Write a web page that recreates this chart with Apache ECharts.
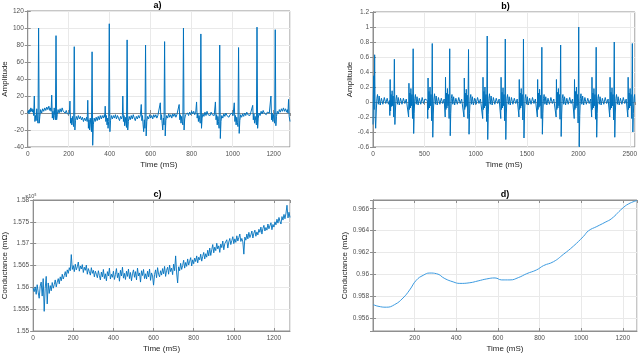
<!DOCTYPE html>
<html>
<head>
<meta charset="utf-8">
<script src="https://cdn.jsdelivr.net/npm/echarts@6/dist/echarts.min.js"></script>
<style>
  html, body { margin: 0; padding: 0; background: #fff; }
  #main { width: 640px; height: 354px; }
</style>
</head>
<body>
<div id="main"></div>
<script>
// a) ECG amplitude, [time ms, amplitude]
var ecgA = [
  [0,0],[3,3],[6,-1],[9,4],[12,1],[15,6],[18,2],[21,5],[24,1],[27,4],[29,-3],
  [32,20],[35,-10],[38,-3],[41,-9],[44,5],[47,-6],[50,-12],[53,100],[56,-12],[59,-4],[63,4],[68,0],[73,5],[78,2],[83,6],[88,3],[93,7],[98,4],[103,8],[108,3],[112,6],[114,2],
  [117,21],[120,-6],[123,2],[126,-8],[129,6],[132,-3],[135,-8],[138,91],[141,-8],[144,-2],[148,4],[153,0],[158,5],[163,1],[168,6],[173,2],[178,4],[183,0],[188,3],[193,-1],[198,-3],[203,-1],
  [206,14],[209,-12],[212,-6],[215,-14],[218,-4],[221,-12],[224,-16],[227,78],[230,-20],[233,-9],[237,-4],[242,-8],[247,-3],[252,-7],[257,-4],[262,-8],[267,-5],[272,-10],[277,-6],[282,-9],[287,-5],[290,-10],
  [293,15],[296,-18],[299,-8],[302,-20],[305,-6],[308,-14],[311,-22],[314,72],[317,-38],[320,-14],[324,-6],[329,-10],[334,-5],[339,-9],[344,-4],[349,-8],[354,-3],[359,-7],[364,-3],[369,-6],[374,-2],[376,-5],
  [378,8],[381,-10],[384,-3],[387,-14],[390,-6],[392,-18],[395,-10],[398,105],[401,-22],[404,-9],[408,-3],[413,-7],[418,-3],[423,-6],[428,-2],[433,-7],[438,-3],[443,-6],[448,-9],[453,-4],[458,-7],[462,-3],
  [464,20],[467,-10],[470,-3],[473,-15],[476,-5],[479,-12],[482,-17],[485,86],[488,-20],[491,-10],[495,-4],[500,-8],[505,-3],[510,-7],[515,-2],[520,-6],[525,-9],[530,-4],[535,-7],[540,-3],[545,-6],[550,-2],
  [554,10],[557,-9],[560,-3],[563,-14],[566,-22],[569,-8],[572,-18],[575,80],[578,-27],[581,-10],[585,-4],[590,-7],[595,-2],[600,-6],[605,-3],[610,-7],[615,-2],[620,-5],[625,-2],[630,-6],[635,-3],[640,-5],[644,-2],
  [647,12],[650,-8],[653,-2],[656,-12],[659,-20],[662,-6],[665,-14],[668,84],[671,-27],[674,-9],[678,-3],[683,-6],[688,-1],[693,-5],[698,-2],[703,-6],[708,-1],[713,-4],[718,-1],[723,-5],[728,-2],[733,-4],[737,0],
  [739,10],[742,-8],[745,-2],[748,-12],[751,-4],[754,-10],[757,-14],[760,100],[763,-20],[766,-7],[770,-2],[775,-4],[780,0],[785,-3],[790,1],[795,-2],[800,2],[805,-1],[810,2],[815,-2],[820,1],[822,-1],
  [824,13],[827,-6],[830,0],[833,-10],[836,-3],[839,-8],[842,-12],[845,93],[848,-18],[851,-6],[855,-1],[860,-4],[865,1],[870,-3],[875,2],[880,-2],[885,0],[890,-3],[895,1],[900,-2],[905,0],[910,-3],[914,-1],
  [916,13],[919,-8],[922,-2],[925,-14],[928,-4],[931,-10],[934,-18],[937,80],[940,-30],[943,-10],[947,-3],[952,-6],[957,-1],[962,-4],[967,0],[972,-3],[977,-1],[982,-5],[987,-2],[992,-4],[997,0],[1002,-3],[1005,-1],
  [1008,12],[1011,-10],[1014,-3],[1017,-14],[1020,-5],[1023,-11],[1026,-16],[1029,77],[1032,-24],[1035,-9],[1039,-2],[1044,-5],[1049,-1],[1054,-4],[1059,0],[1064,-3],[1069,1],[1074,-2],[1079,0],[1084,-3],[1089,1],[1094,-1],[1096,0],
  [1098,9],[1101,-8],[1104,-1],[1107,-12],[1110,-4],[1113,-9],[1116,-14],[1119,101],[1122,-18],[1125,-6],[1129,0],[1134,-3],[1139,2],[1144,-1],[1149,3],[1154,0],[1159,2],[1164,-2],[1169,1],[1174,3],[1179,0],[1183,2],[1185,-1],
  [1187,20],[1190,-8],[1193,0],[1196,-10],[1199,-2],[1202,-8],[1205,-12],[1208,98],[1211,-15],[1214,-4],[1218,2],[1223,-1],[1228,4],[1233,1],[1238,5],[1243,2],[1248,6],[1253,2],[1258,5],[1263,1],[1267,4],[1270,0],
  [1273,16],[1276,-4],[1280,-10]
];

// b) ECG amplitude (normalised), [time ms, amplitude]
var ecgB = [
  [0,-0.3],[3,0.1],[7,0.35],[11,-0.1],[16,0.63],[21,-0.2],[26,-0.35],[32,-0.12],[38,0.05],[44,0.1],[52,-0.03],[60,0.08],[70,-0.04],[82,0.05],[96,-0.03],[110,0.06],[124,-0.02],[138,0.05],[150,-0.03],
  [160,0.02],[164,-0.18],[167,0.3],[171,-0.12],[176,0.1],[181,-0.06],[186,0.15],[191,-0.05],[196,0.08],[202,-0.2],[208,0.57],[213,-0.3],[218,-0.12],[224,0.04],[230,0.09],[238,-0.03],[246,0.06],[256,-0.04],[268,0.05],[282,-0.03],[296,0.05],[310,-0.02],[324,0.04],
  [343,0.02],[347,-0.2],[350,0.25],[354,-0.1],[359,0.12],[364,-0.08],[369,0.18],[374,-0.05],[379,0.1],[385,-0.22],[391,0.71],[396,-0.42],[401,-0.15],[407,0.05],[413,0.1],[421,-0.03],[429,0.07],[439,-0.04],[451,0.05],[465,-0.03],[479,0.06],[493,-0.02],[507,0.04],
  [529,0.02],[533,-0.22],[536,0.32],[540,-0.1],[545,0.14],[550,-0.08],[555,0.2],[560,-0.05],[565,0.1],[571,-0.25],[577,0.78],[582,-0.47],[587,-0.16],[593,0.04],[599,0.11],[607,-0.03],[615,0.08],[625,-0.04],[637,0.06],[651,-0.03],[665,0.05],[679,-0.02],[693,0.04],
  [699,0.02],[703,-0.2],[706,0.33],[710,-0.1],[715,0.12],[720,-0.08],[725,0.18],[730,-0.05],[735,0.1],[741,-0.22],[747,0.71],[752,-0.45],[757,-0.15],[763,0.05],[769,0.1],[777,-0.03],[785,0.07],[795,-0.04],[807,0.05],[821,-0.03],[835,0.06],[849,-0.02],[863,0.04],
  [882,0.02],[886,-0.2],[889,0.32],[893,-0.1],[898,0.12],[903,-0.07],[908,0.17],[913,-0.05],[918,0.09],[924,-0.22],[930,0.7],[935,-0.43],[940,-0.15],[946,0.05],[952,0.1],[960,-0.03],[968,0.07],[978,-0.04],[990,0.05],[1004,-0.03],[1018,0.06],[1032,-0.02],[1046,0.04],
  [1064,0.02],[1068,-0.22],[1071,0.33],[1075,-0.1],[1080,0.14],[1085,-0.08],[1090,0.2],[1095,-0.05],[1100,0.1],[1106,-0.26],[1112,0.88],[1117,-0.5],[1122,-0.17],[1128,0.05],[1134,0.11],[1142,-0.03],[1150,0.08],[1160,-0.04],[1172,0.06],[1186,-0.03],[1200,0.05],[1214,-0.02],[1228,0.04],
  [1240,0.02],[1244,-0.22],[1247,0.33],[1251,-0.1],[1256,0.13],[1261,-0.08],[1266,0.19],[1271,-0.05],[1276,0.1],[1282,-0.25],[1288,0.84],[1293,-0.5],[1298,-0.16],[1304,0.05],[1310,0.1],[1318,-0.03],[1326,0.07],[1336,-0.04],[1348,0.06],[1362,-0.03],[1376,0.05],[1390,-0.02],[1404,0.04],
  [1417,0.02],[1421,-0.2],[1424,0.3],[1428,-0.1],[1433,0.12],[1438,-0.08],[1443,0.18],[1448,-0.05],[1453,0.1],[1459,-0.24],[1465,0.84],[1470,-0.48],[1475,-0.16],[1481,0.05],[1487,0.1],[1495,-0.03],[1503,0.07],[1513,-0.04],[1525,0.05],[1539,-0.03],[1553,0.06],[1567,-0.02],[1581,0.04],
  [1596,0.02],[1600,-0.2],[1603,0.3],[1607,-0.1],[1612,0.12],[1617,-0.07],[1622,0.17],[1627,-0.05],[1632,0.09],[1638,-0.22],[1644,0.73],[1649,-0.43],[1654,-0.15],[1660,0.05],[1666,0.1],[1674,-0.03],[1682,0.07],[1692,-0.04],[1704,0.05],[1718,-0.03],[1732,0.06],[1746,-0.02],[1760,0.04],
  [1779,0.02],[1783,-0.2],[1786,0.3],[1790,-0.1],[1795,0.13],[1800,-0.08],[1805,0.18],[1810,-0.05],[1815,0.1],[1821,-0.23],[1827,0.76],[1832,-0.46],[1837,-0.16],[1843,0.05],[1849,0.1],[1857,-0.03],[1865,0.07],[1875,-0.04],[1887,0.05],[1901,-0.03],[1915,0.06],[1929,-0.02],[1943,0.04],
  [1955,0.02],[1959,-0.22],[1962,0.3],[1966,-0.1],[1971,0.14],[1976,-0.08],[1981,0.2],[1986,-0.05],[1991,0.1],[1997,-0.28],[2003,1.0],[2008,-0.6],[2013,-0.18],[2019,0.05],[2025,0.11],[2033,-0.03],[2041,0.08],[2051,-0.04],[2063,0.06],[2077,-0.03],[2091,0.05],[2105,-0.02],[2119,0.04],
  [2125,0.02],[2129,-0.2],[2132,0.33],[2136,-0.1],[2141,0.12],[2146,-0.08],[2151,0.18],[2156,-0.05],[2161,0.1],[2167,-0.23],[2173,0.73],[2178,-0.47],[2183,-0.15],[2189,0.05],[2195,0.1],[2203,-0.03],[2211,0.07],[2221,-0.04],[2233,0.05],[2247,-0.03],[2261,0.06],[2275,-0.02],[2289,0.04],
  [2301,0.02],[2305,-0.2],[2308,0.33],[2312,-0.1],[2317,0.13],[2322,-0.08],[2327,0.19],[2332,-0.05],[2337,0.1],[2343,-0.24],[2349,0.8],[2354,-0.47],[2359,-0.16],[2365,0.05],[2371,0.1],[2379,-0.03],[2387,0.07],[2397,-0.04],[2409,0.05],[2423,-0.03],[2437,0.06],[2451,-0.02],[2465,0.04],
  [2477,0.02],[2481,-0.2],[2484,0.33],[2488,-0.1],[2493,0.12],[2498,-0.08],[2503,0.18],[2508,-0.05],[2513,0.1],[2519,-0.22],[2525,0.78],[2530,-0.4],[2535,-0.15],[2541,0.05],[2547,0.1],[2550,0.0]
];

// c) conductance (x10^5), one value every 5 ms starting at 0 (16 values = 80 ms per row)
var condStep = 5;
var condC = [
  1.5598,1.5590,1.5601,1.5584,1.5606,1.5589,1.5575,1.5603,1.5612,1.5580,1.5620,1.5545,1.5598,1.5625,1.5562,1.5610,
  1.5586,1.5604,1.5592,1.5611,1.5598,1.5606,1.5617,1.5601,1.5612,1.5620,1.5608,1.5624,1.5615,1.5630,1.5619,1.5627,
  1.5636,1.5624,1.5640,1.5632,1.5645,1.5638,1.5675,1.5641,1.5650,1.5636,1.5653,1.5640,1.5647,1.5658,1.5637,1.5649,
  1.5642,1.5652,1.5634,1.5646,1.5639,1.5651,1.5630,1.5643,1.5636,1.5628,1.5645,1.5632,1.5639,1.5624,1.5637,1.5630,
  1.5622,1.5638,1.5627,1.5617,1.5635,1.5624,1.5641,1.5620,1.5631,1.5615,1.5636,1.5626,1.5644,1.5619,1.5630,1.5623,
  1.5637,1.5618,1.5629,1.5643,1.5622,1.5633,1.5614,1.5639,1.5626,1.5646,1.5621,1.5632,1.5618,1.5637,1.5625,1.5642,
  1.5620,1.5634,1.5615,1.5631,1.5640,1.5623,1.5636,1.5617,1.5644,1.5626,1.5633,1.5612,1.5638,1.5627,1.5641,1.5620,
  1.5631,1.5619,1.5637,1.5624,1.5642,1.5616,1.5633,1.5626,1.5605,1.5629,1.5640,1.5622,1.5645,1.5630,1.5624,1.5638,
  1.5628,1.5643,1.5631,1.5648,1.5625,1.5639,1.5646,1.5630,1.5651,1.5636,1.5644,1.5629,1.5653,1.5638,1.5672,1.5633,
  1.5610,1.5647,1.5638,1.5655,1.5641,1.5650,1.5662,1.5644,1.5657,1.5648,1.5665,1.5651,1.5660,1.5668,1.5649,1.5663,
  1.5654,1.5667,1.5659,1.5672,1.5656,1.5669,1.5663,1.5676,1.5660,1.5671,1.5680,1.5665,1.5677,1.5669,1.5685,1.5672,
  1.5690,1.5673,1.5686,1.5698,1.5679,1.5692,1.5684,1.5701,1.5688,1.5695,1.5680,1.5699,1.5691,1.5706,1.5686,1.5700,
  1.5697,1.5709,1.5690,1.5704,1.5712,1.5698,1.5707,1.5716,1.5700,1.5711,1.5703,1.5718,1.5706,1.5714,1.5722,1.5705,
  1.5712,1.5704,1.5676,1.5715,1.5708,1.5722,1.5711,1.5726,1.5714,1.5720,1.5729,1.5713,1.5724,1.5731,1.5717,1.5727,
  1.5720,1.5733,1.5726,1.5738,1.5722,1.5735,1.5742,1.5729,1.5737,1.5731,1.5745,1.5734,1.5741,1.5748,1.5732,1.5744,
  1.5738,1.5750,1.5743,1.5756,1.5747,1.5760,1.5751,1.5745,1.5762,1.5754,1.5767,1.5757,1.5770,1.5788,1.5759,1.5772,
  1.5760
];

// d) smoothed conductance, [time ms, value]
var condD = [
  [1,0.95722],[24,0.95707],[64,0.95698],[104,0.95722],[144,0.95782],[176,0.95856],[208,0.95945],
  [241,0.9599],[273,0.96011],[305,0.96005],[345,0.9596],[385,0.9593],[417,0.95916],[465,0.95922],
  [505,0.95939],[546,0.95957],[586,0.95966],[618,0.95948],[658,0.95948],[698,0.95969],[738,0.96005],
  [786,0.9604],[819,0.96079],[867,0.96115],[915,0.96183],[963,0.96258],[1011,0.96347],[1035,0.96398],
  [1075,0.96437],[1115,0.96476],[1147,0.96511],[1196,0.966],[1228,0.96645],[1268,0.96675]
];

var titles = ['a)', 'b)', 'c)', 'd)'];
var yNames = ['Amplitude', 'Amplitude', 'Conductance (mΩ)', 'Conductance (mΩ)'];

(function() {
  var myChart = echarts.init(document.getElementById('main'));
  var FONT = 'Liberation Sans, Arial, sans-serif';
  var BOX = '#8f8f8f';
  // plain tick text, no thousands separator
  var plain = function(v) { return String(+(+v).toFixed(6)); };

  var grids = [
    { left: 25, top: 11, width: 265, height: 136 },
    { left: 373, top: 12, width: 265, height: 135 },
    { left: 25, top: 200, width: 265, height: 134 },
    { left: 373, top: 200, width: 264, height: 135 }
  ];
  // x / y ranges per panel
  var xr = [
    { min: 0, max: 1280, interval: 200, hideMin: false },
    { min: 0, max: 2550, interval: 500, hideMin: false },
    { min: 0, max: 1280, interval: 200, hideMin: false },
    { min: 0, max: 1268, interval: 200, hideMin: true }
  ];
  var yr = [
    { min: -40, max: 120, interval: 20, gap: 15 },
    { min: -0.6, max: 1.2, interval: 0.2, gap: 14 },
    { min: 1.55, max: 1.58, interval: 0.005, gap: 21 },
    { min: 0.9548, max: 0.9668, gap: 21, hideEnds: true }
  ];

  var xAxes = [], yAxes = [], topAxes = [], rightAxes = [];
  grids.forEach(function(g, i) {
    g.show = true;
    g.borderColor = BOX;
    g.borderWidth = 1;
    g.containLabel = false;
    xAxes.push({
      type: 'value', gridIndex: i, min: xr[i].min, max: xr[i].max, interval: xr[i].interval,
      name: 'Time (mS)', nameLocation: 'middle', nameGap: 14,
      nameTextStyle: { fontSize: 8, color: '#262626', fontFamily: FONT },
      axisLine: { lineStyle: { color: BOX } },
      axisTick: { inside: true, length: 3, lineStyle: { color: BOX } },
      axisLabel: { fontSize: 6.5, color: '#505050', margin: 4, fontFamily: FONT, formatter: plain,
        showMinLabel: !xr[i].hideMin, showMaxLabel: false },
      splitLine: { lineStyle: { color: '#e9e9e9' } }
    });
    topAxes.push({
      type: 'value', gridIndex: i, position: 'top', min: xr[i].min, max: xr[i].max, interval: xr[i].interval,
      axisLine: { lineStyle: { color: BOX } },
      axisTick: { inside: true, length: 3, lineStyle: { color: BOX } },
      axisLabel: { show: false }, splitLine: { show: false }
    });
    var y = {
      type: 'value', gridIndex: i, min: yr[i].min, max: yr[i].max,
      name: yNames[i], nameLocation: 'middle', nameGap: yr[i].gap,
      nameTextStyle: { fontSize: 8, color: '#262626', fontFamily: FONT },
      axisLine: { lineStyle: { color: BOX } },
      axisTick: { inside: true, length: 3, lineStyle: { color: BOX } },
      axisLabel: { fontSize: 6.5, color: '#505050', margin: 4, fontFamily: FONT, formatter: plain },
      splitLine: { lineStyle: { color: '#e9e9e9' } }
    };
    if (yr[i].interval) y.interval = yr[i].interval;
    else y.splitNumber = 5;
    if (yr[i].hideEnds) { y.axisLabel.showMinLabel = false; y.axisLabel.showMaxLabel = false; }
    yAxes.push(y);
    var r = {
      type: 'value', gridIndex: i, position: 'right', min: yr[i].min, max: yr[i].max,
      axisLine: { lineStyle: { color: BOX } },
      axisTick: { inside: true, length: 3, lineStyle: { color: BOX } },
      axisLabel: { show: false }, splitLine: { show: false }
    };
    if (yr[i].interval) r.interval = yr[i].interval;
    rightAxes.push(r);
  });

  var condCData = condC.map(function(v, k) { return [k * condStep, v]; });
  var seriesData = [ecgA, ecgB, condCData, condD];
  var colors = ['#0072BD', '#0072BD', '#0072BD', '#3d9be0'];
  var widths = [1, 1, 0.9, 1];

  var option = {
    backgroundColor: '#fff',
    animation: false,
    title: titles.map(function(t, i) {
      return {
        text: t, left: grids[i].left + grids[i].width / 2, top: grids[i].top - 10,
        textAlign: 'center', padding: 0,
        textStyle: { fontSize: 9, fontWeight: 'bold', color: '#000', fontFamily: FONT }
      };
    }),
    graphic: [{
      type: 'text', left: 25, top: 193,
      style: { text: '×10⁵', fontSize: 5.5, fill: '#505050', fontFamily: FONT }
    }],
    grid: grids,
    xAxis: xAxes.concat(topAxes),
    yAxis: yAxes.concat(rightAxes),
    series: seriesData.map(function(d, i) {
      return {
        type: 'line', xAxisIndex: i, yAxisIndex: i, data: d,
        showSymbol: false, smooth: i === 3, silent: true,
        lineStyle: { color: colors[i], width: widths[i] },
        clip: true
      };
    })
  };
  myChart.setOption(option);
  window.addEventListener('resize', function() { myChart.resize(); });
})();
</script>
</body>
</html>
